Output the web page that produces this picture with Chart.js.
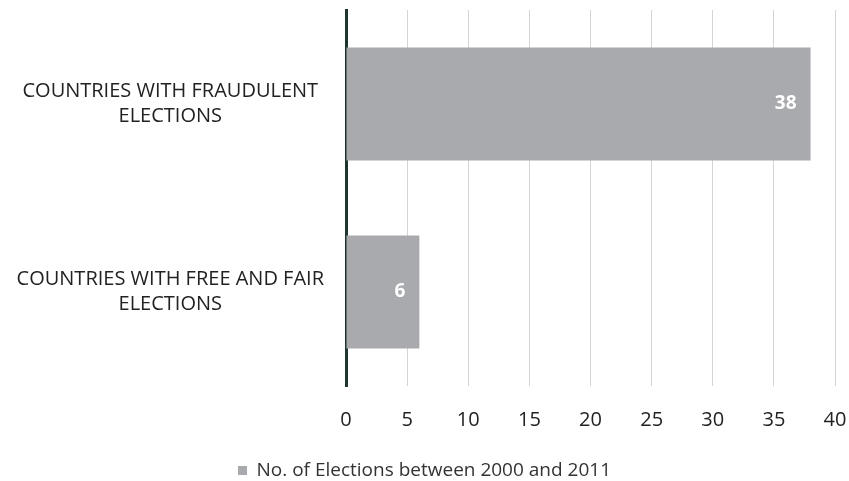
<!DOCTYPE html>
<html>
<head>
<meta charset="utf-8">
<script src="https://cdn.jsdelivr.net/npm/chart.js@4.4.1/dist/chart.umd.min.js"></script>
<style>
  html, body { margin: 0; padding: 0; background: #fff; }
  #wrap { width: 849px; height: 481px; }
</style>
</head>
<body>
<div id="wrap"><canvas id="chart" width="849" height="481"></canvas></div>
<script>
// 数据
const categories = [
  ['COUNTRIES WITH FRAUDULENT', 'ELECTIONS'],
  ['COUNTRIES WITH FREE AND FAIR', 'ELECTIONS']
];
const electionCounts = [38, 6];
const seriesName = 'No. of Elections between 2000 and 2011';
const xTicks = [0, 5, 10, 15, 20, 25, 30, 35, 40];

const FONT = '"Open Sans", Lato, sans-serif';

// 柱内数值标签
const barLabels = {
  id: 'barLabels',
  afterDatasetsDraw(chart) {
    const { ctx } = chart;
    const meta = chart.getDatasetMeta(0);
    ctx.save();
    ctx.font = 'bold 19px ' + FONT;
    ctx.fillStyle = '#ffffff';
    ctx.textAlign = 'right';
    ctx.textBaseline = 'middle';
    meta.data.forEach((bar, i) => {
      ctx.fillText(String(electionCounts[i]), bar.x - 14, bar.y);
    });
    ctx.restore();
  }
};

new Chart(document.getElementById('chart'), {
  type: 'bar',
  data: {
    labels: categories,
    datasets: [{
      label: seriesName,
      data: electionCounts,
      backgroundColor: '#a9aaae',
      categoryPercentage: 1,
      barPercentage: 0.6
    }]
  },
  options: {
    indexAxis: 'y',
    responsive: false,
    animation: false,
    layout: { padding: { top: 10, right: 0, bottom: -9, left: 0 } },
    plugins: {
      legend: {
        position: 'bottom',
        labels: {
          boxWidth: 9,
          boxHeight: 9,
          color: '#333',
          padding: 0,
          font: { family: FONT, size: 19 }
        }
      },
      tooltip: { enabled: false }
    },
    scales: {
      x: {
        min: 0,
        max: 40,
        afterBuildTicks(scale) { scale.ticks = xTicks.map(v => ({ value: v })); },
        afterFit(scale) { scale.paddingRight = 14; scale.paddingLeft = 0; scale.height += 7; },
        grid: { color: '#d4d4d4', lineWidth: 1, drawTicks: false },
        border: { display: false },
        ticks: { color: '#222', padding: 22, font: { family: FONT, size: 20 } }
      },
      y: {
        grid: { display: false, drawTicks: false },
        border: { display: true, color: '#1e3530', width: 3 },
        afterFit(scale) { scale.width = 346; scale.paddingTop = 0; scale.paddingBottom = 0; },
        ticks: {
          color: '#222',
          crossAlign: 'center',
          padding: 22,
          font: { family: FONT, size: 20, lineHeight: 1.25 }
        }
      }
    }
  },
  plugins: [barLabels]
});
</script>
</body>
</html>
